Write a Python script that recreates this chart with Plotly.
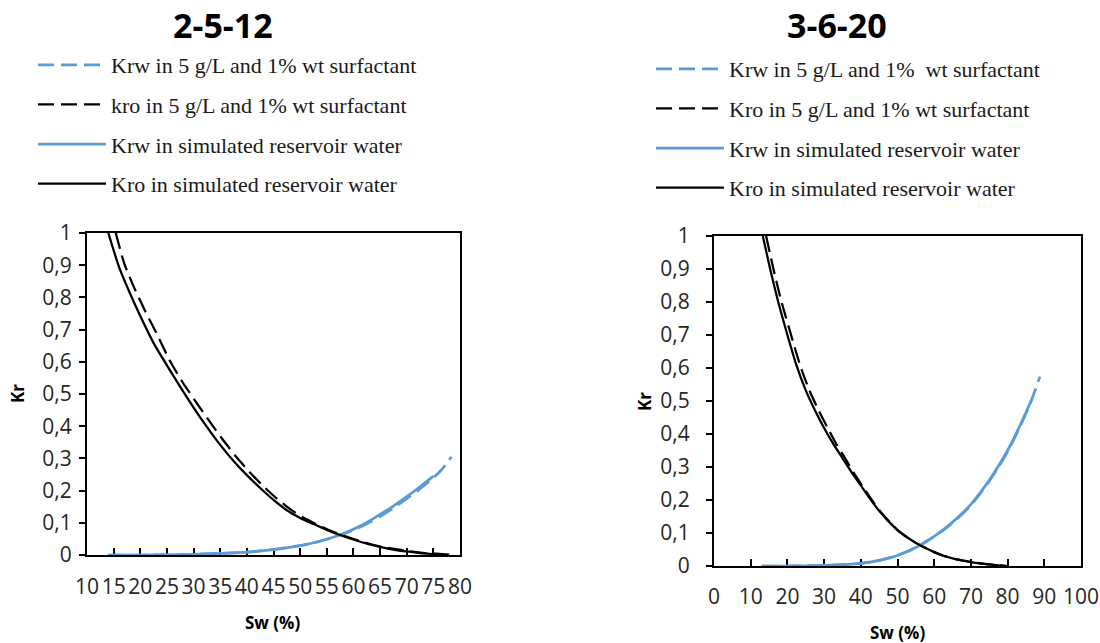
import plotly.graph_objects as go

W, H = 1100, 643

# ---------------- data: chart "2-5-12" ----------------
sw_L_kro_surf = [15.4, 17, 19, 21, 23, 25.5, 28, 30.5, 33, 35.5, 38, 40.5, 43, 45.5, 48, 50.5, 53, 55.5, 58, 60.5, 63, 65.5, 68, 70.5, 73, 75.5, 78]
kro_L_surf = [1.0, 0.905, 0.825, 0.755, 0.69, 0.605, 0.535, 0.474, 0.415, 0.358, 0.305, 0.258, 0.215, 0.177, 0.144, 0.117, 0.096, 0.077, 0.061, 0.047, 0.035, 0.025, 0.018, 0.012, 0.007, 0.004, 0.001]

sw_L_kro_sim = [14, 16, 18, 20, 22.5, 25, 27.5, 30, 32.5, 35, 37.5, 40, 42.5, 45, 47.5, 50, 52.5, 55, 57.5, 60, 62.5, 65, 67.5, 70, 72.5, 75, 76.5]
kro_L_sim = [1.0, 0.895, 0.815, 0.742, 0.658, 0.589, 0.522, 0.458, 0.398, 0.342, 0.292, 0.248, 0.208, 0.171, 0.139, 0.115, 0.096, 0.078, 0.062, 0.048, 0.035, 0.025, 0.017, 0.011, 0.006, 0.003, 0.0]

sw_L_krw_surf = [14, 20, 25, 30, 35, 40, 45, 50, 52.5, 55, 57.5, 60, 62.5, 65, 67.5, 70, 72.5, 75, 76.5, 78.4]
krw_L_surf = [0.0, 0.0, 0.0005, 0.002, 0.005, 0.009, 0.017, 0.029, 0.038, 0.049, 0.062, 0.077, 0.097, 0.120, 0.146, 0.175, 0.206, 0.240, 0.264, 0.305]

sw_L_krw_sim = [14, 20, 25, 30, 35, 40, 45, 50, 52.5, 55, 57.5, 60, 62.5, 65, 67.5, 70, 72.5, 75]
krw_L_sim = [0.0, 0.0, 0.0005, 0.002, 0.005, 0.009, 0.017, 0.029, 0.038, 0.049, 0.063, 0.080, 0.101, 0.126, 0.152, 0.181, 0.212, 0.245]

# ---------------- data: chart "3-6-20" ----------------
sw_R_kro_surf = [14.2, 16.2, 18.4, 21, 23.5, 26, 28.5, 31, 33.3, 35.7, 38, 40.4, 42.8, 45.2, 47.6, 50, 52.5, 55, 57.5, 60, 62.5, 65, 67.5, 70, 72.5, 75, 77.5, 80]
kro_R_surf = [1.0, 0.9, 0.8, 0.7, 0.607, 0.532, 0.472, 0.418, 0.37, 0.327, 0.284, 0.243, 0.203, 0.167, 0.136, 0.109, 0.088, 0.07, 0.055, 0.042, 0.031, 0.023, 0.017, 0.012, 0.008, 0.005, 0.002, 0.0]

sw_R_kro_sim = [13.3, 15.3, 17.5, 20, 22.5, 25, 27.5, 30, 32.5, 35, 37.5, 40, 42.5, 45, 47.5, 50, 52.5, 55, 57.5, 60, 62.5, 65, 67.5, 70, 72.5, 75, 77.5, 80]
kro_R_sim = [1.0, 0.9, 0.8, 0.7, 0.607, 0.532, 0.472, 0.418, 0.37, 0.327, 0.284, 0.244, 0.204, 0.167, 0.136, 0.109, 0.088, 0.07, 0.055, 0.042, 0.031, 0.023, 0.017, 0.012, 0.008, 0.005, 0.002, 0.0]

sw_R_krw_surf = [13, 20, 25, 30, 35, 40, 45, 47.5, 50, 52.5, 55, 57.5, 60, 62.5, 65, 67.5, 70, 72.5, 75, 77.5, 80, 82.5, 85, 86.5, 88.8]
krw_R_surf = [0.0, 0.0, 0.0005, 0.002, 0.004, 0.008, 0.017, 0.024, 0.032, 0.043, 0.056, 0.072, 0.089, 0.109, 0.131, 0.156, 0.184, 0.219, 0.257, 0.300, 0.347, 0.402, 0.462, 0.502, 0.574]

sw_R_krw_sim = [13, 20, 25, 30, 35, 40, 45, 47.5, 50, 52.5, 55, 57.5, 60, 62.5, 65, 67.5, 70, 72.5, 75, 77.5, 80, 82.5, 85, 86.5]
krw_R_sim = [0.0, 0.0, 0.0005, 0.002, 0.004, 0.008, 0.017, 0.024, 0.032, 0.043, 0.056, 0.072, 0.090, 0.110, 0.133, 0.158, 0.187, 0.222, 0.260, 0.303, 0.350, 0.405, 0.465, 0.503]

titles = ["2-5-12", "3-6-20"]
names_L = ["Krw in 5 g/L and 1% wt surfactant", "kro in 5 g/L and 1% wt surfactant",
           "Krw in simulated reservoir water", "Kro in simulated reservoir water"]
names_R = ["Krw in 5 g/L and 1%\u00a0 wt surfactant", "Kro in 5 g/L and 1% wt surfactant",
           "Krw in simulated reservoir water", "Kro in simulated reservoir water"]

BLUE = "#5B9BD5"
BLACK = "#000000"
DASH = "16px,7px"


def X(px):
    return px / W


def Y(py):
    return 1 - py / H


fig = go.Figure()


def add_set(xa, ya, leg, names, series, grp):
    styles = [(BLUE, DASH, 2.75), (BLACK, DASH, 2.25), (BLUE, "solid", 2.75), (BLACK, "solid", 2.25)]
    for i, ((sx, sy), (c, d, w)) in enumerate(zip(series, styles)):
        fig.add_trace(go.Scatter(
            x=sx, y=sy, mode="lines", name=names[i],
            line=dict(color=c, dash=d, width=w, shape="spline", smoothing=0.6),
            xaxis=xa, yaxis=ya, legend=leg, legendgroup=f"{grp}{i}",
            hoverinfo="skip"))


add_set("x", "y", "legend", names_L,
        [(sw_L_krw_surf, krw_L_surf), (sw_L_kro_surf, kro_L_surf),
         (sw_L_krw_sim, krw_L_sim), (sw_L_kro_sim, kro_L_sim)], "L")
add_set("x2", "y2", "legend2", names_R,
        [(sw_R_krw_surf, krw_R_surf), (sw_R_kro_surf, kro_R_surf),
         (sw_R_krw_sim, krw_R_sim), (sw_R_kro_sim, kro_R_sim)], "R")

tickfont = dict(family="Open Sans", size=21, color="#262626")
common_x = dict(showline=True, linecolor="black", linewidth=2, mirror=True,
                ticks="inside", ticklen=7, tickcolor="black", tickwidth=1.5,
                showgrid=False, zeroline=False, tickfont=tickfont, tickangle=0,
                layer="below traces", fixedrange=True, automargin=False)
common_y = dict(showline=True, linecolor="black", linewidth=2, mirror=True,
                ticks="outside", ticklen=6, tickcolor="black", tickwidth=1.5,
                showgrid=False, zeroline=False, tickfont=tickfont, automargin=False,
                range=[0, 1], tick0=0, dtick=0.1, fixedrange=True)

legend_common = dict(font=dict(family="Liberation Serif", size=22, color="#1a1a1a"),
                     bgcolor="rgba(0,0,0,0)", borderwidth=0, itemwidth=68,
                     tracegroupgap=8, xanchor="left", yanchor="top",
                     itemclick=False, itemdoubleclick=False)

fig.update_layout(
    width=W, height=H, margin=dict(l=0, r=0, t=0, b=0, autoexpand=False),
    paper_bgcolor="white", plot_bgcolor="white",
    separators=",.",
    showlegend=True,
    xaxis=dict(domain=[X(87), X(460)], range=[10, 80], tick0=10, dtick=5, anchor="y",
               ticklabelstandoff=12, **common_x),
    yaxis=dict(domain=[Y(555), Y(233)], anchor="x", ticklabelstandoff=3, **common_y),
    xaxis2=dict(domain=[X(714), X(1081)], range=[0, 100], tick0=0, dtick=10, anchor="y2",
                ticklabelstandoff=11, **common_x),
    yaxis2=dict(domain=[Y(566), Y(236)], anchor="x2", ticklabelstandoff=12, **common_y),
    legend=dict(x=X(33), y=Y(44), **legend_common),
    legend2=dict(x=X(651), y=Y(48), **legend_common),
)

ann_title = dict(family="Open Sans", size=34, color="black", weight="bold")
ann_axis = dict(family="Open Sans", size=17, color="black", weight="bold")
anns = [
    dict(text=titles[0], x=X(223), y=Y(25), font=ann_title),
    dict(text=titles[1], x=X(837), y=Y(25), font=ann_title),
    dict(text="Kr", x=X(17), y=Y(394), font=ann_axis, textangle=-90),
    dict(text="Kr", x=X(644), y=Y(402), font=ann_axis, textangle=-90),
    dict(text="Sw (%)", x=X(272), y=Y(622), font=ann_axis),
    dict(text="Sw (%)", x=X(897), y=Y(632), font=ann_axis),
]
for a in anns:
    fig.add_annotation(xref="paper", yref="paper", showarrow=False,
                       xanchor="center", yanchor="middle", **a)

fig.write_html("out.html")
